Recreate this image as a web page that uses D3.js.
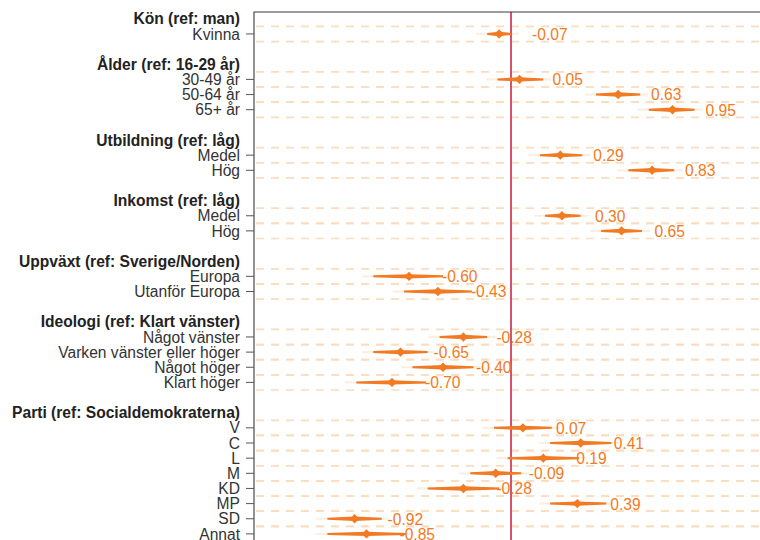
<!DOCTYPE html>
<html>
<head>
<meta charset="utf-8">
<script src="https://cdn.jsdelivr.net/npm/d3@7"></script>
<style>
  body { margin: 0; background: #fff; }
  text { font-family: "Liberation Sans", Arial, Helvetica, sans-serif; }
</style>
</head>
<body>
<div id="vis1"></div>
<script>
const FRAME_HEIGHT = 540;
const FRAME_WIDTH = 760;
const MARGINS = {left: 254, top: 12};

// group headers
const HEADERS = ["Kön (ref: man)", "Ålder (ref: 16-29 år)", "Utbildning (ref: låg)",
                 "Inkomst (ref: låg)", "Uppväxt (ref: Sverige/Norden)",
                 "Ideologi (ref: Klart vänster)", "Parti (ref: Socialdemokraterna)"];

// terms, which group they belong to, estimates and interval bounds
const TERMS = ["Kvinna",
               "30-49 år", "50-64 år", "65+ år",
               "Medel", "Hög",
               "Medel", "Hög",
               "Europa", "Utanför Europa",
               "Något vänster", "Varken vänster eller höger", "Något höger", "Klart höger",
               "V", "C", "L", "M", "KD", "MP", "SD", "Annat"];
const TERM_GROUP = [0, 1, 1, 1, 2, 2, 3, 3, 4, 4, 5, 5, 5, 5, 6, 6, 6, 6, 6, 6, 6, 6];
const ESTIMATES = [-0.07, 0.05, 0.63, 0.95, 0.29, 0.83, 0.30, 0.65, -0.60, -0.43,
                   -0.28, -0.65, -0.40, -0.70, 0.07, 0.41, 0.19, -0.09, -0.28, 0.39, -0.92, -0.85];
const LOWER = [-0.14, -0.08, 0.50, 0.81, 0.17, 0.69, 0.20, 0.53, -0.81, -0.63,
               -0.42, -0.81, -0.58, -0.91, -0.10, 0.23, -0.02, -0.24, -0.49, 0.23, -1.08, -1.08];
const UPPER = [0.00, 0.19, 0.76, 1.08, 0.42, 0.96, 0.41, 0.77, -0.40, -0.23,
               -0.14, -0.49, -0.22, -0.50, 0.24, 0.59, 0.40, 0.06, -0.07, 0.56, -0.76, -0.62];

const ORANGE = "#f27a22";
const GRID = "#fcdcbf";
const REDLINE = "#c8294c";

const FRAME1 = d3.select("#vis1")
                  .append("svg")
                  .attr("height", FRAME_HEIGHT)
                  .attr("width", FRAME_WIDTH)
                  .attr("class", "frame");

function build_coef_plot() {
  // build the row list: header, items, blank spacer
  const rows = [];
  HEADERS.forEach((h, g) => {
    rows.push({id: "h" + g, type: "header", label: h});
    TERMS.forEach((t, i) => {
      if (TERM_GROUP[i] === g) {
        rows.push({id: "t" + i, type: "term", label: t, est: ESTIMATES[i], lo: LOWER[i], hi: UPPER[i]});
      }
    });
    if (g < HEADERS.length - 1) rows.push({id: "b" + g, type: "blank"});
  });
  const terms = rows.filter(d => d.type === "term");

  const STEP = 15.15;
  const Y_Scale = d3.scalePoint()
                    .domain(rows.map(d => d.id))
                    .range([MARGINS.top + 6.8, MARGINS.top + 6.8 + STEP * (rows.length - 1)]);
  const X_Scale = d3.scaleLinear()
                    .domain([-1.5, 1.5])
                    .range([256, 766]);

  // dashed guide lines above / below each term row
  const gridYs = [];
  terms.forEach(d => { gridYs.push(Y_Scale(d.id) - STEP / 2, Y_Scale(d.id) + STEP / 2); });
  FRAME1.append("g").selectAll("line")
        .data(gridYs)
        .enter().append("line")
        .attr("x1", MARGINS.left + 2).attr("x2", FRAME_WIDTH)
        .attr("y1", d => d).attr("y2", d => d)
        .attr("stroke", GRID)
        .attr("stroke-width", 1.7)
        .attr("stroke-dasharray", "8,7");

  // zero line
  FRAME1.append("line")
        .attr("x1", X_Scale(0)).attr("x2", X_Scale(0))
        .attr("y1", MARGINS.top).attr("y2", FRAME_HEIGHT)
        .attr("stroke", REDLINE)
        .attr("stroke-width", 1.6);

  // frame: left axis + top border
  FRAME1.append("path")
        .attr("d", "M" + MARGINS.left + "," + FRAME_HEIGHT + "V" + MARGINS.top + "H" + FRAME_WIDTH)
        .attr("fill", "none")
        .attr("stroke", "#3a3a3a")
        .attr("stroke-width", 1.1);

  // ticks
  FRAME1.append("g").selectAll("line")
        .data(terms)
        .enter().append("line")
        .attr("x1", MARGINS.left - 8).attr("x2", MARGINS.left)
        .attr("y1", d => Y_Scale(d.id)).attr("y2", d => Y_Scale(d.id))
        .attr("stroke", "#555")
        .attr("stroke-width", 1);

  // row labels
  FRAME1.append("g").selectAll("text")
        .data(rows.filter(d => d.type !== "blank"))
        .enter().append("text")
        .attr("x", 240)
        .attr("y", d => Y_Scale(d.id))
        .attr("dy", "0.36em")
        .attr("text-anchor", "end")
        .attr("font-size", "15.6px")
        .attr("font-weight", d => d.type === "header" ? "bold" : "normal")
        .attr("fill", d => d.type === "header" ? "#222" : "#333")
        .text(d => d.label);

  // faint tails of the intervals
  FRAME1.append("g").selectAll("line")
        .data(terms)
        .enter().append("line")
        .attr("x1", d => X_Scale(d.lo) - 11)
        .attr("x2", d => X_Scale(d.hi) + 8)
        .attr("y1", d => Y_Scale(d.id)).attr("y2", d => Y_Scale(d.id))
        .attr("stroke", ORANGE)
        .attr("stroke-opacity", 0.13)
        .attr("stroke-width", 2.2);

  // tapered interval bars
  FRAME1.append("g").selectAll("path")
        .data(terms)
        .enter().append("path")
        .attr("d", d => {
          const y = Y_Scale(d.id), x0 = X_Scale(d.lo), x1 = X_Scale(d.hi), xm = X_Scale(d.est);
          return "M" + x0 + "," + (y - 1) + "L" + xm + "," + (y - 2.2) + "L" + x1 + "," + (y - 1)
               + "L" + x1 + "," + (y + 1) + "L" + xm + "," + (y + 2.2) + "L" + x0 + "," + (y + 1) + "Z";
        })
        .attr("fill", ORANGE);

  // point estimates
  FRAME1.append("g").selectAll("path")
        .data(terms)
        .enter().append("path")
        .attr("d", d3.symbol(d3.symbolSquare, 44))
        .attr("transform", d => "translate(" + X_Scale(d.est) + "," + Y_Scale(d.id) + ") rotate(45)")
        .attr("fill", ORANGE);

  // value labels
  FRAME1.append("g").selectAll("text")
        .data(terms)
        .enter().append("text")
        .attr("x", d => X_Scale(d.est) + 33)
        .attr("y", d => Y_Scale(d.id))
        .attr("dy", "0.38em")
        .attr("font-size", "15.6px")
        .attr("fill", ORANGE)
        .text(d => d.est.toFixed(2));
}

build_coef_plot();
</script>
</body>
</html>
